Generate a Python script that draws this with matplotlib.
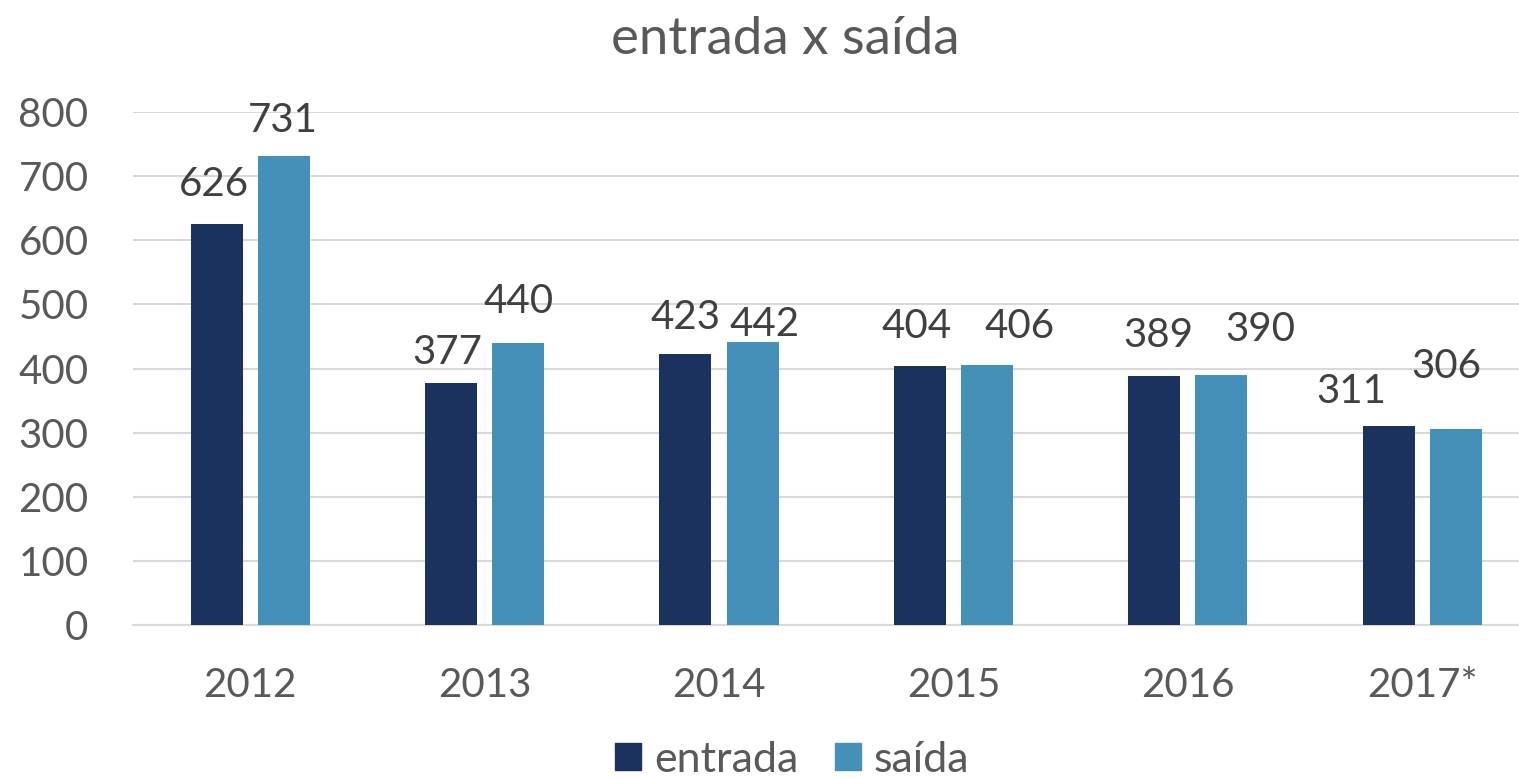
import numpy as np
import matplotlib
matplotlib.use("Agg")
from matplotlib import pyplot as plt
from matplotlib.patches import Patch

#data
anos = ["2012", "2013", "2014", "2015", "2016", "2017*"]
entrada = [626, 377, 423, 404, 389, 311]
saida = [731, 440, 442, 406, 390, 306]

#label nudges in pixels (dx, dy above bar top), like excel placed them
off_entrada = [(-3, 39), (-4, 31), (0, 36), (-3, 39), (4, 40), (-37, 34)]
off_saida = [(-1, 36), (0, 41), (12, 17), (33, 38), (39, 45), (-9, 62)]

cor_entrada = "#1b325e"
cor_saida = "#4590b9"
cinza = "#595959"
escuro = "#404040"

plt.rcParams['font.family'] = ['Lato', 'DejaVu Sans']

fig = plt.figure(figsize=(15.19, 7.8), dpi=100)
ax = fig.add_axes([133/1519, 155/780, 6*234.4/1519, 513/780])

x = np.arange(len(anos))
w = 0.222
d = 0.143
b1 = ax.bar(x - d, entrada, w, color=cor_entrada, zorder=3)
b2 = ax.bar(x + d, saida, w, color=cor_saida, zorder=3)

for bars, vals, offs in [(b1, entrada, off_entrada), (b2, saida, off_saida)]:
    for r, v, (dx, dy) in zip(bars, vals, offs):
        ax.annotate(str(v), xy=(r.get_x() + r.get_width()/2, v),
                    xytext=(dx, dy), textcoords='offset pixels',
                    ha='center', va='center', fontsize=29, color=escuro)

ax.set_xlim(-0.5, len(anos) - 0.5)
ax.set_ylim(0, 800)
ax.set_yticks(range(0, 801, 100))
ax.set_xticks(x)
ax.set_xticklabels(anos)
ax.tick_params(axis='both', length=0, labelsize=29, labelcolor=cinza)
ax.tick_params(axis='y', pad=32)
ax.tick_params(axis='x', pad=30)
ax.grid(axis='y', color='#d9d9d9', linewidth=1.5, zorder=0)
for s in ['top', 'right', 'left']:
    ax.spines[s].set_visible(False)
ax.spines['bottom'].set_color('#d9d9d9')
ax.spines['bottom'].set_linewidth(1.5)

fig.text(785/1519, 1 - 40/780, "entrada x saída", ha='center', va='center',
         fontsize=38, color=cinza)

handles = [Patch(color=cor_entrada, label="entrada"),
           Patch(color=cor_saida, label="saída")]
fig.legend(handles=handles, loc='center', bbox_to_anchor=(0.5215, 1 - 760/780),
           ncol=2, frameon=False, fontsize=31, labelcolor=cinza,
           handlelength=0.6, handleheight=0.6, handletextpad=0.3,
           columnspacing=0.85)

fig.savefig("out.png", dpi=100, facecolor='white')
